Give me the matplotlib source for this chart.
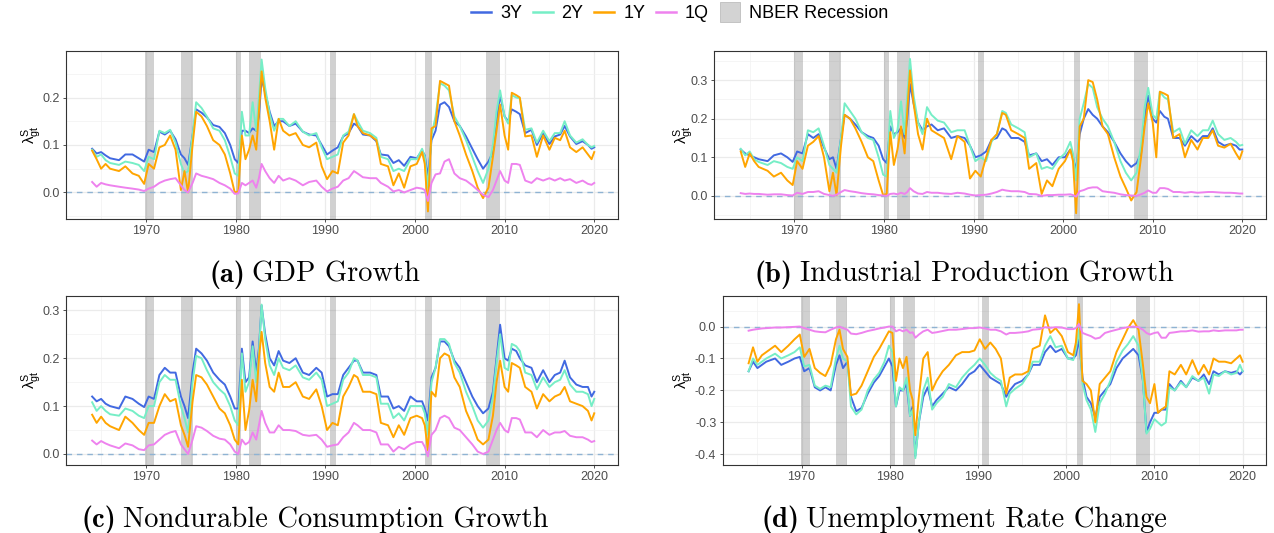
import matplotlib
matplotlib.use("Agg")
import matplotlib.pyplot as plt
import matplotlib.patches as mpatches
from matplotlib.lines import Line2D
from matplotlib.legend_handler import HandlerPatch
from matplotlib.ticker import FixedLocator, FuncFormatter

plt.rcParams["font.family"] = "Liberation Sans"

# ---- data: quarterly-ish sampling of the loadings ----
dates = [
    1964.0, 1964.5, 1965.0, 1965.5, 1966.0,
    1967.0, 1967.7, 1968.5, 1969.2, 1969.8,
    1970.3, 1970.9, 1971.5, 1972.1, 1972.7,
    1973.3, 1973.9, 1974.3, 1974.7, 1975.2,
    1975.6, 1976.2, 1976.8, 1977.5, 1978.2,
    1978.8, 1979.4, 1979.9, 1980.3, 1980.7,
    1981.1, 1981.5, 1981.9, 1982.3, 1982.6,
    1982.9, 1983.3, 1983.8, 1984.3, 1984.8,
    1985.3, 1986.0, 1986.7, 1987.5, 1988.2,
    1989.0, 1989.6, 1990.2, 1990.8, 1991.4,
    1992.0, 1992.6, 1993.2, 1993.6, 1994.2,
    1995.0, 1995.7, 1996.2, 1997.0, 1997.6,
    1998.2, 1998.8, 1999.5, 2000.2, 2000.8,
    2001.1, 2001.45, 2001.85, 2002.3, 2002.8,
    2003.3, 2003.8, 2004.4, 2005.0, 2005.7,
    2006.4, 2007.0, 2007.6, 2008.2, 2008.7,
    2009.1, 2009.5, 2010.0, 2010.4, 2010.8,
    2011.3, 2011.7, 2012.3, 2013.0, 2013.6,
    2014.3, 2015.0, 2015.6, 2016.2, 2016.7,
    2017.3, 2018.0, 2018.7, 2019.3, 2019.7,
    2020.0,
]

gdp_3y = [
    0.092, 0.082, 0.085, 0.078, 0.072, 0.068, 0.080, 0.080, 0.072, 0.065,
    0.090, 0.085, 0.128, 0.122, 0.130, 0.112, 0.080, 0.072, 0.058, 0.120,
    0.175, 0.168, 0.158, 0.142, 0.138, 0.125, 0.100, 0.070, 0.062, 0.130,
    0.130, 0.125, 0.135, 0.130, 0.160, 0.240, 0.210, 0.170, 0.140, 0.150,
    0.150, 0.140, 0.145, 0.128, 0.122, 0.120, 0.100, 0.080, 0.088, 0.095,
    0.118, 0.125, 0.145, 0.140, 0.122, 0.120, 0.108, 0.080, 0.078, 0.062,
    0.068, 0.056, 0.075, 0.072, 0.088, 0.078, 0.032, 0.110, 0.130, 0.185,
    0.190, 0.180, 0.150, 0.140, 0.118, 0.092, 0.070, 0.050, 0.065, 0.085,
    0.150, 0.205, 0.160, 0.150, 0.175, 0.170, 0.165, 0.125, 0.132, 0.100,
    0.125, 0.102, 0.118, 0.122, 0.140, 0.118, 0.102, 0.108, 0.100, 0.092,
    0.095,
]
gdp_2y = [
    0.090, 0.075, 0.080, 0.068, 0.062, 0.058, 0.065, 0.062, 0.058, 0.045,
    0.075, 0.070, 0.130, 0.125, 0.132, 0.105, 0.060, 0.040, 0.045, 0.120,
    0.190, 0.178, 0.160, 0.135, 0.130, 0.110, 0.075, 0.040, 0.035, 0.170,
    0.120, 0.120, 0.190, 0.130, 0.200, 0.280, 0.220, 0.165, 0.130, 0.155,
    0.155, 0.140, 0.150, 0.128, 0.120, 0.125, 0.095, 0.070, 0.075, 0.080,
    0.120, 0.128, 0.165, 0.150, 0.130, 0.125, 0.115, 0.075, 0.070, 0.045,
    0.050, 0.045, 0.070, 0.070, 0.092, 0.075, 0.010, 0.120, 0.160, 0.230,
    0.225, 0.215, 0.160, 0.140, 0.110, 0.075, 0.045, 0.020, 0.050, 0.100,
    0.170, 0.215, 0.160, 0.145, 0.205, 0.200, 0.198, 0.132, 0.135, 0.105,
    0.130, 0.108, 0.125, 0.125, 0.150, 0.120, 0.105, 0.112, 0.100, 0.095,
    0.098,
]
gdp_1y = [
    0.088, 0.070, 0.050, 0.060, 0.050, 0.045, 0.055, 0.040, 0.035, 0.018,
    0.060, 0.050, 0.095, 0.100, 0.120, 0.090, 0.005, 0.045, 0.000, 0.100,
    0.170, 0.160, 0.140, 0.110, 0.100, 0.080, 0.040, 0.000, 0.002, 0.120,
    0.070, 0.090, 0.120, 0.090, 0.170, 0.255, 0.200, 0.150, 0.090, 0.155,
    0.130, 0.120, 0.125, 0.100, 0.095, 0.105, 0.055, 0.028, 0.045, 0.040,
    0.105, 0.120, 0.165, 0.140, 0.125, 0.120, 0.110, 0.060, 0.055, 0.015,
    0.040, 0.010, 0.055, 0.060, 0.085, 0.060, -0.040, 0.135, 0.140, 0.235,
    0.230, 0.225, 0.150, 0.120, 0.080, 0.045, 0.010, -0.012, 0.010, 0.075,
    0.130, 0.185, 0.120, 0.090, 0.210, 0.205, 0.200, 0.118, 0.120, 0.075,
    0.120, 0.090, 0.115, 0.110, 0.130, 0.095, 0.085, 0.095, 0.080, 0.070,
    0.085,
]
gdp_1q = [
    0.022, 0.012, 0.020, 0.017, 0.015, 0.012, 0.010, 0.008, 0.006, 0.003,
    0.008, 0.012, 0.020, 0.025, 0.028, 0.030, 0.015, 0.005, 0.000, 0.020,
    0.040, 0.035, 0.032, 0.028, 0.020, 0.015, 0.008, -0.003, -0.002, 0.020,
    0.015, 0.020, 0.025, 0.010, 0.030, 0.060, 0.045, 0.030, 0.020, 0.035,
    0.025, 0.030, 0.025, 0.015, 0.022, 0.025, 0.012, 0.002, 0.008, 0.012,
    0.025, 0.030, 0.045, 0.040, 0.032, 0.030, 0.030, 0.020, 0.012, 0.002,
    0.005, 0.000, 0.005, 0.010, 0.008, 0.005, -0.018, 0.020, 0.038, 0.040,
    0.065, 0.070, 0.040, 0.030, 0.025, 0.015, 0.005, -0.005, -0.010, 0.005,
    0.025, 0.045, 0.025, 0.020, 0.060, 0.060, 0.058, 0.025, 0.020, 0.030,
    0.025, 0.030, 0.025, 0.030, 0.025, 0.028, 0.020, 0.025, 0.018, 0.016,
    0.020,
]

ip_3y = [
    0.120, 0.110, 0.105, 0.100, 0.095, 0.090, 0.105, 0.110, 0.100, 0.088,
    0.115, 0.110, 0.160, 0.150, 0.160, 0.125, 0.095, 0.100, 0.070, 0.150,
    0.210, 0.200, 0.185, 0.165, 0.155, 0.150, 0.130, 0.095, 0.085, 0.180,
    0.160, 0.165, 0.175, 0.150, 0.200, 0.290, 0.240, 0.190, 0.170, 0.180,
    0.185, 0.170, 0.175, 0.150, 0.155, 0.150, 0.130, 0.100, 0.105, 0.115,
    0.145, 0.150, 0.175, 0.170, 0.150, 0.150, 0.140, 0.105, 0.110, 0.090,
    0.095, 0.080, 0.100, 0.100, 0.120, 0.100, 0.065, 0.160, 0.200, 0.225,
    0.210, 0.200, 0.180, 0.165, 0.140, 0.110, 0.090, 0.075, 0.085, 0.110,
    0.200, 0.260, 0.200, 0.190, 0.220, 0.205, 0.200, 0.150, 0.150, 0.130,
    0.155, 0.140, 0.155, 0.155, 0.175, 0.140, 0.130, 0.135, 0.130, 0.120,
    0.120,
]
ip_2y = [
    0.122, 0.105, 0.115, 0.095, 0.088, 0.080, 0.090, 0.085, 0.075, 0.070,
    0.100, 0.090, 0.170, 0.165, 0.175, 0.130, 0.080, 0.070, 0.060, 0.150,
    0.240, 0.220, 0.200, 0.165, 0.150, 0.145, 0.100, 0.055, 0.050, 0.220,
    0.150, 0.170, 0.245, 0.160, 0.260, 0.355, 0.260, 0.190, 0.160, 0.230,
    0.210, 0.195, 0.190, 0.165, 0.170, 0.170, 0.130, 0.090, 0.100, 0.090,
    0.140, 0.160, 0.220, 0.215, 0.185, 0.175, 0.165, 0.100, 0.110, 0.070,
    0.075, 0.070, 0.095, 0.110, 0.140, 0.110, 0.040, 0.200, 0.240, 0.290,
    0.280, 0.230, 0.200, 0.180, 0.140, 0.090, 0.060, 0.040, 0.060, 0.130,
    0.230, 0.280, 0.210, 0.200, 0.270, 0.255, 0.250, 0.165, 0.175, 0.135,
    0.170, 0.155, 0.170, 0.170, 0.195, 0.160, 0.145, 0.150, 0.140, 0.130,
    0.132,
]
ip_1y = [
    0.115, 0.075, 0.110, 0.090, 0.075, 0.065, 0.050, 0.060, 0.040, 0.028,
    0.090, 0.070, 0.130, 0.140, 0.155, 0.100, 0.012, 0.060, 0.002, 0.130,
    0.210, 0.200, 0.175, 0.140, 0.100, 0.090, 0.040, 0.002, 0.005, 0.165,
    0.080, 0.120, 0.180, 0.110, 0.220, 0.325, 0.240, 0.160, 0.120, 0.200,
    0.170, 0.160, 0.150, 0.095, 0.155, 0.140, 0.045, 0.065, 0.050, 0.100,
    0.145, 0.160, 0.215, 0.210, 0.170, 0.160, 0.150, 0.070, 0.085, 0.005,
    0.040, 0.025, 0.070, 0.090, 0.120, 0.090, -0.045, 0.180, 0.200, 0.300,
    0.295, 0.250, 0.180, 0.160, 0.100, 0.050, 0.020, -0.012, 0.010, 0.100,
    0.180, 0.240, 0.190, 0.100, 0.270, 0.265, 0.260, 0.150, 0.160, 0.100,
    0.145, 0.120, 0.150, 0.150, 0.170, 0.130, 0.125, 0.135, 0.110, 0.095,
    0.115,
]
ip_1q = [
    0.007, 0.005, 0.006, 0.005, 0.005, 0.003, 0.004, 0.004, 0.002, 0.001,
    0.008, 0.005, 0.010, 0.010, 0.012, 0.005, 0.002, 0.000, 0.003, 0.010,
    0.015, 0.012, 0.010, 0.007, 0.005, 0.004, 0.002, 0.001, 0.000, 0.005,
    0.006, 0.004, 0.008, 0.005, 0.010, 0.020, 0.012, 0.006, 0.005, 0.010,
    0.008, 0.008, 0.006, 0.005, 0.008, 0.006, 0.003, 0.001, 0.002, 0.003,
    0.006, 0.010, 0.016, 0.014, 0.012, 0.012, 0.010, 0.005, 0.004, 0.000,
    0.002, 0.002, 0.003, 0.003, 0.004, 0.002, -0.002, 0.012, 0.015, 0.020,
    0.022, 0.022, 0.012, 0.010, 0.008, 0.004, 0.002, 0.001, 0.000, 0.004,
    0.008, 0.014, 0.008, 0.008, 0.020, 0.020, 0.018, 0.010, 0.010, 0.008,
    0.010, 0.008, 0.009, 0.010, 0.010, 0.009, 0.008, 0.008, 0.007, 0.006,
    0.006,
]

ndc_3y = [
    0.120, 0.110, 0.115, 0.105, 0.100, 0.095, 0.120, 0.115, 0.105, 0.098,
    0.120, 0.115, 0.165, 0.180, 0.170, 0.170, 0.120, 0.100, 0.075, 0.170,
    0.220, 0.210, 0.195, 0.170, 0.155, 0.145, 0.120, 0.095, 0.095, 0.220,
    0.150, 0.160, 0.235, 0.170, 0.220, 0.310, 0.250, 0.200, 0.185, 0.215,
    0.195, 0.190, 0.200, 0.170, 0.165, 0.180, 0.170, 0.120, 0.125, 0.125,
    0.165, 0.180, 0.195, 0.195, 0.170, 0.170, 0.165, 0.120, 0.120, 0.095,
    0.100, 0.090, 0.120, 0.110, 0.110, 0.095, 0.070, 0.160, 0.180, 0.235,
    0.235, 0.225, 0.195, 0.180, 0.150, 0.120, 0.100, 0.085, 0.095, 0.130,
    0.200, 0.270, 0.200, 0.195, 0.220, 0.215, 0.200, 0.185, 0.180, 0.150,
    0.175, 0.150, 0.165, 0.170, 0.195, 0.160, 0.145, 0.140, 0.140, 0.120,
    0.130,
]
ndc_2y = [
    0.108, 0.090, 0.100, 0.090, 0.083, 0.080, 0.095, 0.090, 0.080, 0.075,
    0.100, 0.100, 0.150, 0.165, 0.155, 0.155, 0.100, 0.075, 0.045, 0.150,
    0.205, 0.200, 0.175, 0.150, 0.135, 0.125, 0.100, 0.070, 0.060, 0.210,
    0.130, 0.150, 0.225, 0.150, 0.210, 0.312, 0.240, 0.185, 0.165, 0.200,
    0.180, 0.175, 0.185, 0.160, 0.155, 0.170, 0.155, 0.100, 0.105, 0.110,
    0.155, 0.170, 0.200, 0.195, 0.165, 0.165, 0.160, 0.105, 0.105, 0.075,
    0.085, 0.070, 0.100, 0.100, 0.100, 0.085, 0.040, 0.150, 0.180, 0.240,
    0.240, 0.230, 0.190, 0.170, 0.130, 0.100, 0.070, 0.055, 0.070, 0.120,
    0.190, 0.250, 0.180, 0.175, 0.230, 0.225, 0.215, 0.170, 0.165, 0.135,
    0.160, 0.140, 0.150, 0.155, 0.175, 0.145, 0.130, 0.130, 0.125, 0.100,
    0.115,
]
ndc_1y = [
    0.082, 0.065, 0.078, 0.065, 0.058, 0.050, 0.078, 0.065, 0.050, 0.040,
    0.065, 0.065, 0.100, 0.125, 0.110, 0.115, 0.060, 0.040, 0.015, 0.110,
    0.165, 0.160, 0.145, 0.120, 0.095, 0.085, 0.060, 0.030, 0.020, 0.155,
    0.050, 0.090, 0.155, 0.110, 0.200, 0.255, 0.190, 0.140, 0.130, 0.170,
    0.140, 0.140, 0.150, 0.120, 0.115, 0.135, 0.100, 0.050, 0.065, 0.060,
    0.120, 0.140, 0.165, 0.160, 0.130, 0.130, 0.125, 0.065, 0.060, 0.035,
    0.060, 0.040, 0.075, 0.080, 0.075, 0.060, 0.008, 0.130, 0.120, 0.200,
    0.210, 0.205, 0.160, 0.140, 0.090, 0.060, 0.030, 0.020, 0.030, 0.080,
    0.150, 0.195, 0.140, 0.130, 0.190, 0.185, 0.180, 0.140, 0.130, 0.095,
    0.125, 0.110, 0.120, 0.125, 0.140, 0.110, 0.105, 0.100, 0.090, 0.070,
    0.085,
]
ndc_1q = [
    0.028, 0.020, 0.027, 0.022, 0.018, 0.012, 0.022, 0.018, 0.010, 0.008,
    0.018, 0.020, 0.030, 0.040, 0.045, 0.048, 0.020, 0.010, 0.000, 0.030,
    0.058, 0.055, 0.048, 0.038, 0.032, 0.030, 0.020, 0.005, 0.000, 0.030,
    0.020, 0.025, 0.045, 0.030, 0.060, 0.090, 0.065, 0.045, 0.045, 0.060,
    0.050, 0.050, 0.048, 0.040, 0.038, 0.040, 0.030, 0.015, 0.018, 0.020,
    0.035, 0.045, 0.065, 0.060, 0.050, 0.050, 0.045, 0.020, 0.020, 0.005,
    0.015, 0.010, 0.020, 0.025, 0.025, 0.015, -0.005, 0.040, 0.050, 0.075,
    0.080, 0.075, 0.055, 0.050, 0.035, 0.020, 0.005, 0.000, 0.005, 0.030,
    0.050, 0.065, 0.050, 0.045, 0.075, 0.075, 0.072, 0.045, 0.045, 0.035,
    0.050, 0.040, 0.045, 0.045, 0.048, 0.038, 0.035, 0.035, 0.030, 0.025,
    0.027,
]

unemp_3y = [
    -0.140, -0.110, -0.130, -0.120, -0.110, -0.100, -0.120, -0.110, -0.100, -0.095,
    -0.140, -0.130, -0.190, -0.200, -0.190, -0.200, -0.120, -0.090, -0.130, -0.110,
    -0.220, -0.265, -0.255, -0.210, -0.175, -0.155, -0.125, -0.100, -0.125, -0.250,
    -0.200, -0.200, -0.180, -0.280, -0.250, -0.405, -0.300, -0.220, -0.190, -0.250,
    -0.230, -0.210, -0.190, -0.200, -0.180, -0.150, -0.140, -0.120, -0.140, -0.160,
    -0.170, -0.180, -0.220, -0.200, -0.180, -0.170, -0.150, -0.120, -0.120, -0.080,
    -0.060, -0.080, -0.070, -0.100, -0.100, -0.090, -0.040, -0.160, -0.220, -0.240,
    -0.285, -0.220, -0.200, -0.180, -0.130, -0.100, -0.085, -0.070, -0.090, -0.170,
    -0.330, -0.300, -0.270, -0.270, -0.260, -0.260, -0.180, -0.200, -0.170, -0.190,
    -0.160, -0.170, -0.150, -0.180, -0.140, -0.150, -0.140, -0.145, -0.140, -0.150,
    -0.140,
]
unemp_2y = [
    -0.140, -0.100, -0.120, -0.110, -0.100, -0.085, -0.100, -0.090, -0.080, -0.065,
    -0.125, -0.120, -0.185, -0.195, -0.185, -0.190, -0.100, -0.060, -0.100, -0.110,
    -0.250, -0.275, -0.260, -0.200, -0.165, -0.145, -0.110, -0.060, -0.080, -0.250,
    -0.190, -0.200, -0.160, -0.280, -0.260, -0.412, -0.300, -0.200, -0.160, -0.260,
    -0.240, -0.220, -0.180, -0.190, -0.160, -0.135, -0.120, -0.100, -0.120, -0.145,
    -0.160, -0.170, -0.250, -0.210, -0.195, -0.180, -0.150, -0.110, -0.110, -0.060,
    -0.030, -0.065, -0.060, -0.100, -0.105, -0.070, -0.010, -0.180, -0.230, -0.260,
    -0.330, -0.240, -0.210, -0.170, -0.110, -0.075, -0.055, -0.030, -0.060, -0.170,
    -0.335, -0.320, -0.290, -0.300, -0.310, -0.300, -0.190, -0.200, -0.175, -0.190,
    -0.155, -0.170, -0.160, -0.210, -0.150, -0.155, -0.140, -0.150, -0.145, -0.120,
    -0.140,
]
unemp_1y = [
    -0.115, -0.065, -0.110, -0.090, -0.080, -0.060, -0.080, -0.060, -0.040, -0.025,
    -0.095, -0.070, -0.130, -0.145, -0.155, -0.120, -0.040, -0.010, -0.070, -0.095,
    -0.215, -0.210, -0.185, -0.140, -0.095, -0.070, -0.040, -0.015, -0.020, -0.170,
    -0.100, -0.130, -0.095, -0.200, -0.230, -0.340, -0.220, -0.100, -0.080, -0.200,
    -0.170, -0.140, -0.120, -0.090, -0.080, -0.080, -0.075, -0.040, -0.070, -0.050,
    -0.070, -0.100, -0.210, -0.160, -0.150, -0.150, -0.140, -0.070, -0.060, 0.035,
    -0.020, -0.005, -0.030, -0.080, -0.090, -0.050, 0.070, -0.170, -0.180, -0.200,
    -0.300, -0.180, -0.160, -0.140, -0.080, -0.040, -0.005, 0.020, -0.010, -0.120,
    -0.220, -0.240, -0.180, -0.270, -0.260, -0.250, -0.140, -0.150, -0.120, -0.150,
    -0.105, -0.150, -0.120, -0.150, -0.100, -0.110, -0.110, -0.115, -0.100, -0.090,
    -0.110,
]
unemp_1q = [
    -0.013, -0.010, -0.008, -0.006, -0.005, -0.003, -0.003, -0.002, -0.001, 0.000,
    -0.005, -0.010, -0.015, -0.017, -0.018, -0.010, -0.003, 0.000, -0.005, -0.010,
    -0.022, -0.024, -0.020, -0.014, -0.010, -0.006, -0.003, 0.000, 0.000, -0.015,
    -0.010, -0.015, -0.010, -0.020, -0.018, -0.035, -0.025, -0.015, -0.010, -0.020,
    -0.018, -0.014, -0.010, -0.010, -0.008, -0.005, -0.005, -0.003, -0.006, -0.010,
    -0.010, -0.015, -0.025, -0.020, -0.020, -0.018, -0.015, -0.010, -0.008, -0.002,
    -0.004, -0.002, -0.003, -0.008, -0.008, -0.005, 0.008, -0.020, -0.025, -0.030,
    -0.038, -0.035, -0.020, -0.015, -0.010, -0.005, -0.002, 0.000, -0.002, -0.010,
    -0.020, -0.025, -0.020, -0.018, -0.035, -0.035, -0.020, -0.018, -0.015, -0.015,
    -0.012, -0.016, -0.015, -0.015, -0.012, -0.014, -0.012, -0.012, -0.012, -0.010,
    -0.010,
]

# NBER recession dates (fractional years)
rec_start = [1969.92, 1973.87, 1980.0, 1981.5, 1990.5, 2001.17, 2007.92]
rec_end = [1970.92, 1975.2, 1980.55, 1982.87, 1991.2, 2001.87, 2009.45]

series_names = ["3Y", "2Y", "1Y", "1Q"]
colors = {"3Y": "#4169e1", "2Y": "#76eec6", "1Y": "#ffa500", "1Q": "#ee82ee"}

W, H = 1274, 533
XLIM = (1961.05, 2022.65)

fig = plt.figure(figsize=(W / 100, H / 100), dpi=100)


def add_panel(left, top, right, bottom):
    return fig.add_axes([left / W, 1 - bottom / H, (right - left) / W, (bottom - top) / H])


def draw_panel(ax, values, ylim, y_major, y_minor):
    for x0, x1 in zip(rec_start, rec_end):
        ax.axvspan(x0, x1, facecolor="#808080", alpha=0.36, lw=0, zorder=1)
    ax.axhline(0, color="#8fb3d3", lw=1.0, ls=(0, (4, 3.5)), zorder=2)
    for name, vals in zip(series_names, values):
        ax.plot(dates, vals, color=colors[name], lw=1.4, zorder=3,
                solid_joinstyle="round")

    ax.set_xlim(*XLIM)
    ax.set_ylim(*ylim)
    ax.xaxis.set_major_locator(FixedLocator([1970, 1980, 1990, 2000, 2010, 2020]))
    ax.xaxis.set_minor_locator(FixedLocator([1965, 1975, 1985, 1995, 2005, 2015]))
    ax.yaxis.set_major_locator(FixedLocator(y_major))
    ax.yaxis.set_minor_locator(FixedLocator(y_minor))
    ax.yaxis.set_major_formatter(FuncFormatter(lambda v, _: f"{v:.1f}"))

    ax.set_axisbelow(True)
    ax.grid(which="major", color="#ebebeb", lw=0.9)
    ax.grid(which="minor", color="#f2f2f2", lw=0.5)
    ax.tick_params(which="major", length=2.5, width=0.6, color="#333333",
                   labelsize=9, labelcolor="#4d4d4d", pad=2)
    ax.tick_params(which="minor", length=0)
    for sp in ax.spines.values():
        sp.set_color("#333333")
        sp.set_linewidth(0.8)


ax_a = add_panel(65.7, 51, 618, 219)
draw_panel(ax_a, [gdp_3y, gdp_2y, gdp_1y, gdp_1q], (-0.056, 0.298),
           [0.0, 0.1, 0.2], [-0.05, 0.05, 0.15, 0.25])

ax_b = add_panel(714.3, 51, 1266, 219)
draw_panel(ax_b, [ip_3y, ip_2y, ip_1y, ip_1q], (-0.060, 0.3755),
           [0.0, 0.1, 0.2, 0.3], [-0.05, 0.05, 0.15, 0.25, 0.35])

ax_c = add_panel(65.7, 296, 618, 465)
draw_panel(ax_c, [ndc_3y, ndc_2y, ndc_1y, ndc_1q], (-0.023, 0.33),
           [0.0, 0.1, 0.2, 0.3], [0.05, 0.15, 0.25])

ax_d = add_panel(722.6, 296, 1266, 465)
draw_panel(ax_d, [unemp_3y, unemp_2y, unemp_1y, unemp_1q], (-0.4334, 0.0956),
           [-0.4, -0.3, -0.2, -0.1, 0.0], [-0.35, -0.25, -0.15, -0.05, 0.05])

# y-axis titles
ylab = r"$\mathregular{\lambda^{S}_{gt}}$"
for x, y in [(32, 135), (684, 135), (32, 380), (684, 380)]:
    fig.text(x / W, 1 - y / H, ylab, rotation=90, ha="center", va="center",
             fontsize=11, color="black")


# legend across the top
def square_key(legend, orig_handle, xdescent, ydescent, width, height, fontsize):
    side = width
    return mpatches.Rectangle((-xdescent, -ydescent + (height - side) / 2), side, side)


handles = [Line2D([], [], color=colors[n], lw=1.8) for n in series_names]
handles.append(mpatches.Patch(facecolor="#d3d3d3", edgecolor="#bdbdbd", lw=0.6))
labels = series_names + ["NBER Recession"]
fig.legend(handles, labels, loc="center", bbox_to_anchor=(679.5 / W, 1 - 14 / H),
           ncol=5, frameon=False, fontsize=13, handlelength=1.1,
           handletextpad=0.5, columnspacing=0.6,
           handler_map={mpatches.Patch: HandlerPatch(patch_func=square_key)})

# subfigure captions: bold tag followed by the title in Computer Modern
renderer = fig.canvas.get_renderer()


def caption(cx, baseline, tag, title, size=20.5, gap=7):
    t1 = fig.text(0, 0, tag, family="cmb10", fontsize=size, va="baseline")
    t2 = fig.text(0, 0, title, family="cmr10", fontsize=size, va="baseline")
    w1 = t1.get_window_extent(renderer).width
    w2 = t2.get_window_extent(renderer).width
    x0 = cx - (w1 + gap + w2) / 2
    t1.set_position((x0 / W, 1 - baseline / H))
    t2.set_position(((x0 + w1 + gap) / W, 1 - baseline / H))


caption(315, 282, "(a)", "GDP Growth")
caption(964, 282, "(b)", "Industrial Production Growth")
caption(315, 527, "(c)", "Nondurable Consumption Growth")
caption(964, 527, "(d)", "Unemployment Rate Change")

fig.savefig("out.png", dpi=100)
plt.close(fig)
